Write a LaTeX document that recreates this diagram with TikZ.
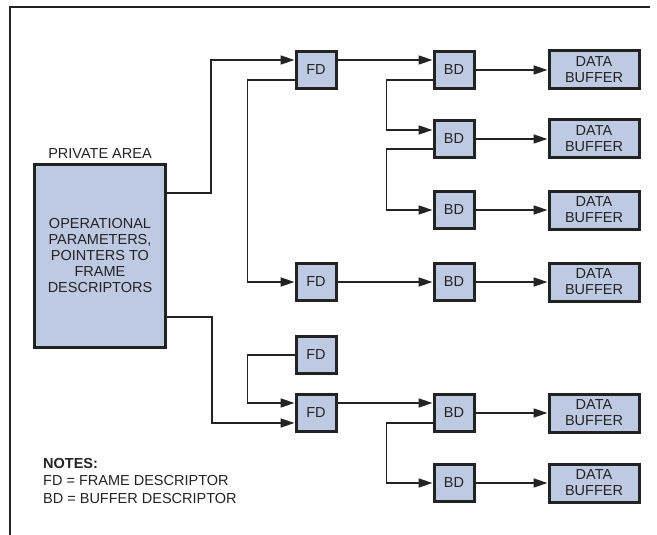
\documentclass[tikz,border=0pt]{standalone}
\usepackage{fontspec}
\setmainfont{Liberation Sans}
\usetikzlibrary{arrows.meta,positioning}
\definecolor{boxblue}{RGB}{190,201,226}
\definecolor{ink}{RGB}{35,35,38}

\begin{document}
\begin{tikzpicture}[x=1pt,y=-1pt,
  box/.style={draw=ink,line width=3pt,fill=boxblue,inner sep=0pt,align=center,text=ink,font=\fontsize{14.5}{16}\selectfont},
  desc/.style={box,minimum width=40pt,minimum height=37pt},
  buf/.style={box,minimum width=90pt,minimum height=38pt},
  link/.style={draw=ink,line width=1.6pt,-{Triangle[length=14pt,width=9pt]}}]
\useasboundingbox[fill=white] (0,0) rectangle (657,535);
% frame
\draw[ink,line width=1.5pt] (650,7) -- (10,7) -- (10,535);
% private area
\node[box,minimum width=131pt,minimum height=183pt] (pa) at (100,256)
  {OPERATIONAL\\PARAMETERS,\\POINTERS TO\\FRAME\\DESCRIPTORS};
\node[above=4pt of pa,inner sep=0pt,text=ink,font=\fontsize{14.5}{16}\selectfont] (patitle) {PRIVATE AREA};
% frame descriptors
\foreach \n/\y in {1/70,2/282,3/355,4/413} \node[desc] (fd\n) at (316,\y) {FD};
% buffer descriptors
\foreach \n/\y in {1/70,2/139,3/210,4/282,5/413,6/483} \node[desc] (bd\n) at (454,\y) {BD};
% data buffers
\foreach \n/\y in {1/70,2/139,3/210,4/282,5/413,6/483} \node[buf] (db\n) at (594,\y) {DATA\\BUFFER};
\foreach \n in {1,...,6} \draw[link] (bd\n.east) -- (db\n.west);
% chains
\draw[link] ([yshift=-30pt]pa.north east) -- ++(44,0) |- ([yshift=10pt]fd1.west);
\draw[link] ([yshift=-10pt]fd1.west) -- ++(-47,0) |- (fd2.west);
\draw[link] ([yshift=32pt]pa.south east) -- ++(45,0) |- ([yshift=-10pt]fd4.west);
\draw[link] (fd3.west) -- ++(-47,0) |- ([yshift=10pt]fd4.west);
\draw[link] ([yshift=10pt]fd1.east) -- ([yshift=10pt]bd1.west);
\draw[link] ([yshift=-10pt]bd1.west) -- ++(-46,0) |- ([yshift=9pt]bd2.west);
\draw[link] ([yshift=-10pt]bd2.west) -- ++(-46,0) |- (bd3.west);
\draw[link] (fd2.east) -- (bd4.west);
\draw[link] ([yshift=10pt]fd4.east) -- ([yshift=10pt]bd5.west);
\draw[link] ([yshift=-10pt]bd5.west) -- ++(-46,0) |- (bd6.west);
% notes
\node[anchor=north west,align=left,inner sep=0pt,text=ink,font=\fontsize{14.5}{17.5}\selectfont] (notes) at (43,458)
  {\textbf{NOTES:}\\FD = FRAME DESCRIPTOR\\BD = BUFFER DESCRIPTOR};
\end{tikzpicture}
\end{document}
